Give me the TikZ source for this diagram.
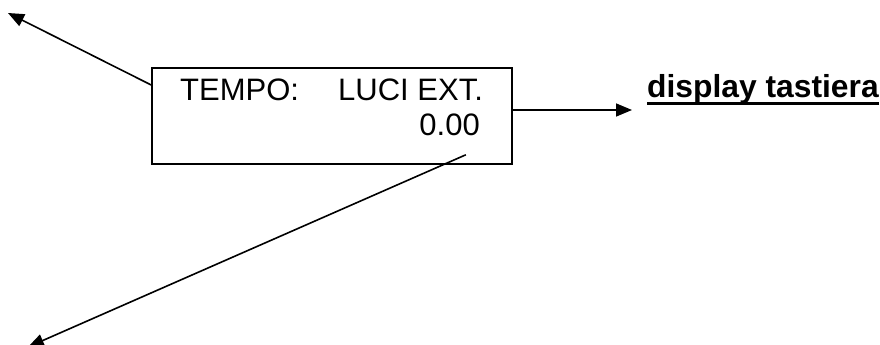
\documentclass[tikz,border=0pt]{standalone}
\usepackage{fontspec}
\setmainfont{Liberation Sans}
\usetikzlibrary{arrows.meta, positioning}

\newcommand\sottolinea[1]{\setbox0\hbox{#1}\rlap{\rule[-7.5pt]{\wd0}{2.5pt}}\box0}

\begin{document}
\begin{tikzpicture}[
    x=1pt, y=-1pt,
    schermo/.style={rectangle, draw, line width=1.6pt, minimum width=360pt, minimum height=96pt, inner sep=0pt},
    testo/.style={inner sep=0pt, font=\fontsize{31}{35}\selectfont},
    freccia/.style={-{Triangle[length=16pt, width=13pt]}, line width=1.6pt}
]
    \useasboundingbox (0,0) rectangle (880,345);

    \node[schermo] (display) at (332,116) {};
    \node[testo, anchor=base west] (tempo) at (180,100) {TEMPO:};
    \node[testo, anchor=base west] (luci) at (338,100) {LUCI EXT.};
    \node[testo, anchor=base east] (ora) at (480,135) {0.00};
    \node[testo, font=\fontsize{31.8}{35}\selectfont\bfseries, anchor=base west] (tastiera) at (647,97) {\sottolinea{display tastiera}};

    \coordinate (alto) at (8,13);
    \coordinate (basso) at (28,347);
    \coordinate (punta) at (632,110);

    \draw[freccia] ([yshift=31pt]display.west) -- (alto);
    \draw[freccia] ([yshift=6pt]display.east) -- (punta);
    \draw[freccia] ([xshift=-47pt,yshift=10pt]display.south east) -- (basso);
\end{tikzpicture}
\end{document}
